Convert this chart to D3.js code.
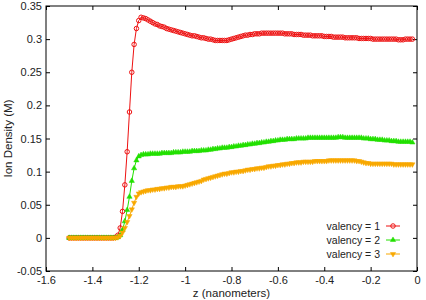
<!DOCTYPE html>
<html>
<head>
<meta charset="utf-8">
<script src="https://cdn.jsdelivr.net/npm/d3@7"></script>
<style>
	body { margin: 0; background: #fff; }
	text { font-family: "Liberation Sans", Arial, sans-serif; fill: #222; }
</style>
</head>
<body>
<svg></svg>
<script>
// z positions (nanometers)
var zValues = [
	-1.50,-1.49,-1.48,-1.47,-1.46,-1.45,-1.44,-1.43,-1.42,-1.41,
	-1.40,-1.39,-1.38,-1.37,-1.36,-1.35,-1.34,-1.33,-1.32,-1.31,
	-1.30,-1.29,-1.28,-1.27,-1.26,-1.25,-1.24,-1.23,-1.22,-1.21,
	-1.20,-1.19,-1.18,-1.17,-1.16,-1.15,-1.14,-1.13,-1.12,-1.11,
	-1.10,-1.09,-1.08,-1.07,-1.06,-1.05,-1.04,-1.03,-1.02,-1.01,
	-1.00,-0.99,-0.98,-0.97,-0.96,-0.95,-0.94,-0.93,-0.92,-0.91,
	-0.90,-0.89,-0.88,-0.87,-0.86,-0.85,-0.84,-0.83,-0.82,-0.81,
	-0.80,-0.79,-0.78,-0.77,-0.76,-0.75,-0.74,-0.73,-0.72,-0.71,
	-0.70,-0.69,-0.68,-0.67,-0.66,-0.65,-0.64,-0.63,-0.62,-0.61,
	-0.60,-0.59,-0.58,-0.57,-0.56,-0.55,-0.54,-0.53,-0.52,-0.51,
	-0.50,-0.49,-0.48,-0.47,-0.46,-0.45,-0.44,-0.43,-0.42,-0.41,
	-0.40,-0.39,-0.38,-0.37,-0.36,-0.35,-0.34,-0.33,-0.32,-0.31,
	-0.30,-0.29,-0.28,-0.27,-0.26,-0.25,-0.24,-0.23,-0.22,-0.21,
	-0.20,-0.19,-0.18,-0.17,-0.16,-0.15,-0.14,-0.13,-0.12,-0.11,
	-0.10,-0.09,-0.08,-0.07,-0.06,-0.05,-0.04,-0.03,-0.02
];

var valency1 = [
	0,0,0,0,0,0,0,0,0,0,
	0,0,0,0,0,0,0,0,0,0,
	0.001,0.004,0.015,0.040,0.080,0.130,0.190,0.250,0.292,0.316,
	0.328,0.333,0.332,0.331,0.329,0.327,0.325,0.323,0.322,0.320,
	0.319,0.318,0.316,0.315,0.314,0.313,0.312,0.311,0.310,0.309,
	0.308,0.307,0.306,0.305,0.305,0.304,0.303,0.302,0.302,0.301,
	0.300,0.300,0.299,0.298,0.298,0.298,0.298,0.298,0.298,0.299,
	0.300,0.301,0.302,0.303,0.304,0.305,0.306,0.306,0.307,0.307,
	0.308,0.308,0.308,0.309,0.309,0.309,0.309,0.309,0.309,0.309,
	0.309,0.309,0.309,0.308,0.308,0.308,0.308,0.307,0.307,0.307,
	0.307,0.306,0.306,0.306,0.306,0.305,0.305,0.305,0.305,0.305,
	0.304,0.304,0.304,0.304,0.303,0.303,0.303,0.303,0.303,0.302,
	0.302,0.302,0.302,0.302,0.302,0.301,0.301,0.301,0.301,0.301,
	0.301,0.300,0.300,0.300,0.300,0.300,0.300,0.300,0.300,0.300,
	0.300,0.300,0.299,0.299,0.299,0.300,0.300,0.300,0.300
];

var valency2 = [
	0,0,0,0,0,0,0,0,0,0,
	0,0,0,0,0,0,0,0,0,0,
	0.000,0.001,0.004,0.012,0.025,0.042,0.062,0.086,0.105,0.117,
	0.123,0.125,0.126,0.126,0.126,0.127,0.127,0.127,0.127,0.127,
	0.128,0.128,0.128,0.128,0.128,0.129,0.129,0.129,0.129,0.130,
	0.130,0.130,0.130,0.131,0.131,0.131,0.131,0.132,0.132,0.132,
	0.133,0.133,0.134,0.134,0.135,0.135,0.136,0.136,0.136,0.137,
	0.137,0.138,0.138,0.139,0.139,0.140,0.140,0.141,0.141,0.142,
	0.142,0.143,0.143,0.144,0.144,0.145,0.145,0.146,0.146,0.147,
	0.147,0.148,0.148,0.148,0.149,0.149,0.149,0.149,0.150,0.150,
	0.150,0.150,0.150,0.151,0.151,0.151,0.151,0.151,0.151,0.151,
	0.151,0.151,0.151,0.151,0.151,0.151,0.152,0.152,0.152,0.151,
	0.151,0.151,0.151,0.151,0.151,0.151,0.151,0.150,0.150,0.150,
	0.149,0.149,0.149,0.148,0.148,0.148,0.147,0.147,0.147,0.146,
	0.146,0.146,0.145,0.145,0.145,0.145,0.145,0.145,0.144
];

var valency3 = [
	0,0,0,0,0,0,0,0,0,0,
	0,0,0,0,0,0,0,0,0,0,
	0.000,0.001,0.003,0.008,0.015,0.024,0.033,0.043,0.053,0.062,
	0.067,0.069,0.070,0.071,0.072,0.072,0.073,0.073,0.074,0.074,
	0.075,0.075,0.076,0.076,0.077,0.077,0.077,0.078,0.078,0.078,
	0.079,0.080,0.081,0.082,0.083,0.084,0.085,0.086,0.088,0.089,
	0.090,0.091,0.092,0.093,0.094,0.095,0.096,0.097,0.097,0.098,
	0.099,0.099,0.100,0.100,0.101,0.101,0.102,0.103,0.103,0.104,
	0.104,0.105,0.105,0.106,0.106,0.107,0.108,0.108,0.109,0.109,
	0.110,0.110,0.111,0.111,0.112,0.112,0.113,0.113,0.114,0.114,
	0.114,0.115,0.115,0.115,0.115,0.115,0.116,0.116,0.116,0.116,
	0.116,0.116,0.117,0.117,0.117,0.117,0.117,0.117,0.117,0.117,
	0.117,0.117,0.117,0.117,0.116,0.116,0.115,0.114,0.113,0.113,
	0.112,0.112,0.112,0.112,0.112,0.112,0.112,0.112,0.112,0.112,
	0.111,0.111,0.111,0.111,0.111,0.111,0.111,0.111,0.111
];

var seriesNames = ["valency = 1", "valency = 2", "valency = 3"];
var xTicks = [-1.6, -1.4, -1.2, -1, -0.8, -0.6, -0.4, -0.2, 0];
var yTicks = [-0.05, 0, 0.05, 0.1, 0.15, 0.2, 0.25, 0.3, 0.35];

var svgWidth = 426, svgHeight = 300;
var plotLeft = 46, plotRight = 417, plotTop = 6, plotBottom = 271;
var tickLen = 4;

var svg = d3.select("svg")
	.attr("width", svgWidth)
	.attr("height", svgHeight);

var xScale = d3.scaleLinear().domain([-1.6, 0]).range([plotLeft, plotRight]);
var yScale = d3.scaleLinear().domain([-0.05, 0.35]).range([plotBottom, plotTop]);

var fmt = function(d) { return String(+d.toFixed(2)); };

var series = [
	{ name: seriesNames[0], values: valency1, color: "#ee1111", symbol: "circle" },
	{ name: seriesNames[1], values: valency2, color: "#22e000", symbol: "up" },
	{ name: seriesNames[2], values: valency3, color: "#f8a800", symbol: "down" }
];

setAxes();
setSeries();
setLegend();
setLabels();

// axes with gnuplot style inward ticks on all four sides
function setAxes() {
	svg.append("g")
		.attr("transform", "translate(0," + plotBottom + ")")
		.call(d3.axisBottom(xScale).tickValues(xTicks).tickSize(-tickLen).tickPadding(5).tickFormat(fmt))
		.call(styleAxis);
	svg.append("g")
		.attr("transform", "translate(0," + plotTop + ")")
		.call(d3.axisTop(xScale).tickValues(xTicks).tickSize(-tickLen).tickFormat(""))
		.call(styleAxis);
	svg.append("g")
		.attr("transform", "translate(" + plotLeft + ",0)")
		.call(d3.axisLeft(yScale).tickValues(yTicks).tickSize(-tickLen).tickPadding(4).tickFormat(fmt))
		.call(styleAxis);
	svg.append("g")
		.attr("transform", "translate(" + plotRight + ",0)")
		.call(d3.axisRight(yScale).tickValues(yTicks).tickSize(-tickLen).tickFormat(""))
		.call(styleAxis);

	svg.append("rect")
		.attr("x", plotLeft)
		.attr("y", plotTop)
		.attr("width", plotRight - plotLeft)
		.attr("height", plotBottom - plotTop)
		.attr("fill", "none")
		.attr("stroke", "#000")
		.attr("stroke-width", 1);
}

function styleAxis(g) {
	g.select(".domain").remove();
	g.selectAll(".tick line").attr("stroke", "#000");
	g.selectAll(".tick text")
		.style("font-family", "'Liberation Sans', Arial, sans-serif")
		.style("font-size", "11px")
		.attr("fill", "#222");
}

function symbolPath(kind) {
	if (kind === "circle") return d3.symbol().type(d3.symbolCircle).size(16)();
	return d3.symbol().type(d3.symbolTriangle).size(12)();
}

// lines and markers for each valency
function setSeries() {
	var line = d3.line()
		.x(function(d, i) { return xScale(zValues[i]); })
		.y(function(d) { return yScale(d); });

	series.forEach(function(s) {
		var g = svg.append("g").attr("class", "series");
		g.append("path")
			.attr("d", line(s.values))
			.attr("fill", "none")
			.attr("stroke", s.color)
			.attr("stroke-width", 1);
		g.selectAll("path.mark")
			.data(s.values)
			.enter()
			.append("path")
			.attr("class", "mark")
			.attr("d", symbolPath(s.symbol))
			.attr("transform", function(d, i) {
				var t = "translate(" + xScale(zValues[i]) + "," + yScale(d) + ")";
				return s.symbol === "down" ? t + " rotate(180)" : t;
			})
			.attr("fill", s.symbol === "circle" ? "none" : s.color)
			.attr("stroke", s.color)
			.attr("stroke-width", s.symbol === "circle" ? 1 : 0.5);
	});
}

// legend in the lower right corner
function setLegend() {
	var rowY = [226, 240, 254];
	series.forEach(function(s, i) {
		var g = svg.append("g").attr("transform", "translate(0," + rowY[i] + ")");
		g.append("text")
			.attr("x", 380)
			.attr("y", 0)
			.attr("dy", "0.35em")
			.attr("text-anchor", "end")
			.style("font-size", "10.5px")
			.text(s.name);
		g.append("line")
			.attr("x1", 386).attr("x2", 400)
			.attr("stroke", s.color)
			.attr("stroke-width", 1);
		g.append("path")
			.attr("d", symbolPath(s.symbol))
			.attr("transform", "translate(393,0)" + (s.symbol === "down" ? " rotate(180)" : ""))
			.attr("fill", s.symbol === "circle" ? "none" : s.color)
			.attr("stroke", s.color)
			.attr("stroke-width", s.symbol === "circle" ? 1 : 0.5);
	});
}

// axis titles
function setLabels() {
	svg.append("text")
		.attr("x", (plotLeft + plotRight) / 2)
		.attr("y", 297)
		.attr("text-anchor", "middle")
		.style("font-size", "11.5px")
		.text("z (nanometers)");
	svg.append("text")
		.attr("transform", "translate(12," + (plotTop + plotBottom) / 2 + ") rotate(-90)")
		.attr("text-anchor", "middle")
		.style("font-size", "11.5px")
		.text("Ion Density (M)");
}
</script>
</body>
</html>
